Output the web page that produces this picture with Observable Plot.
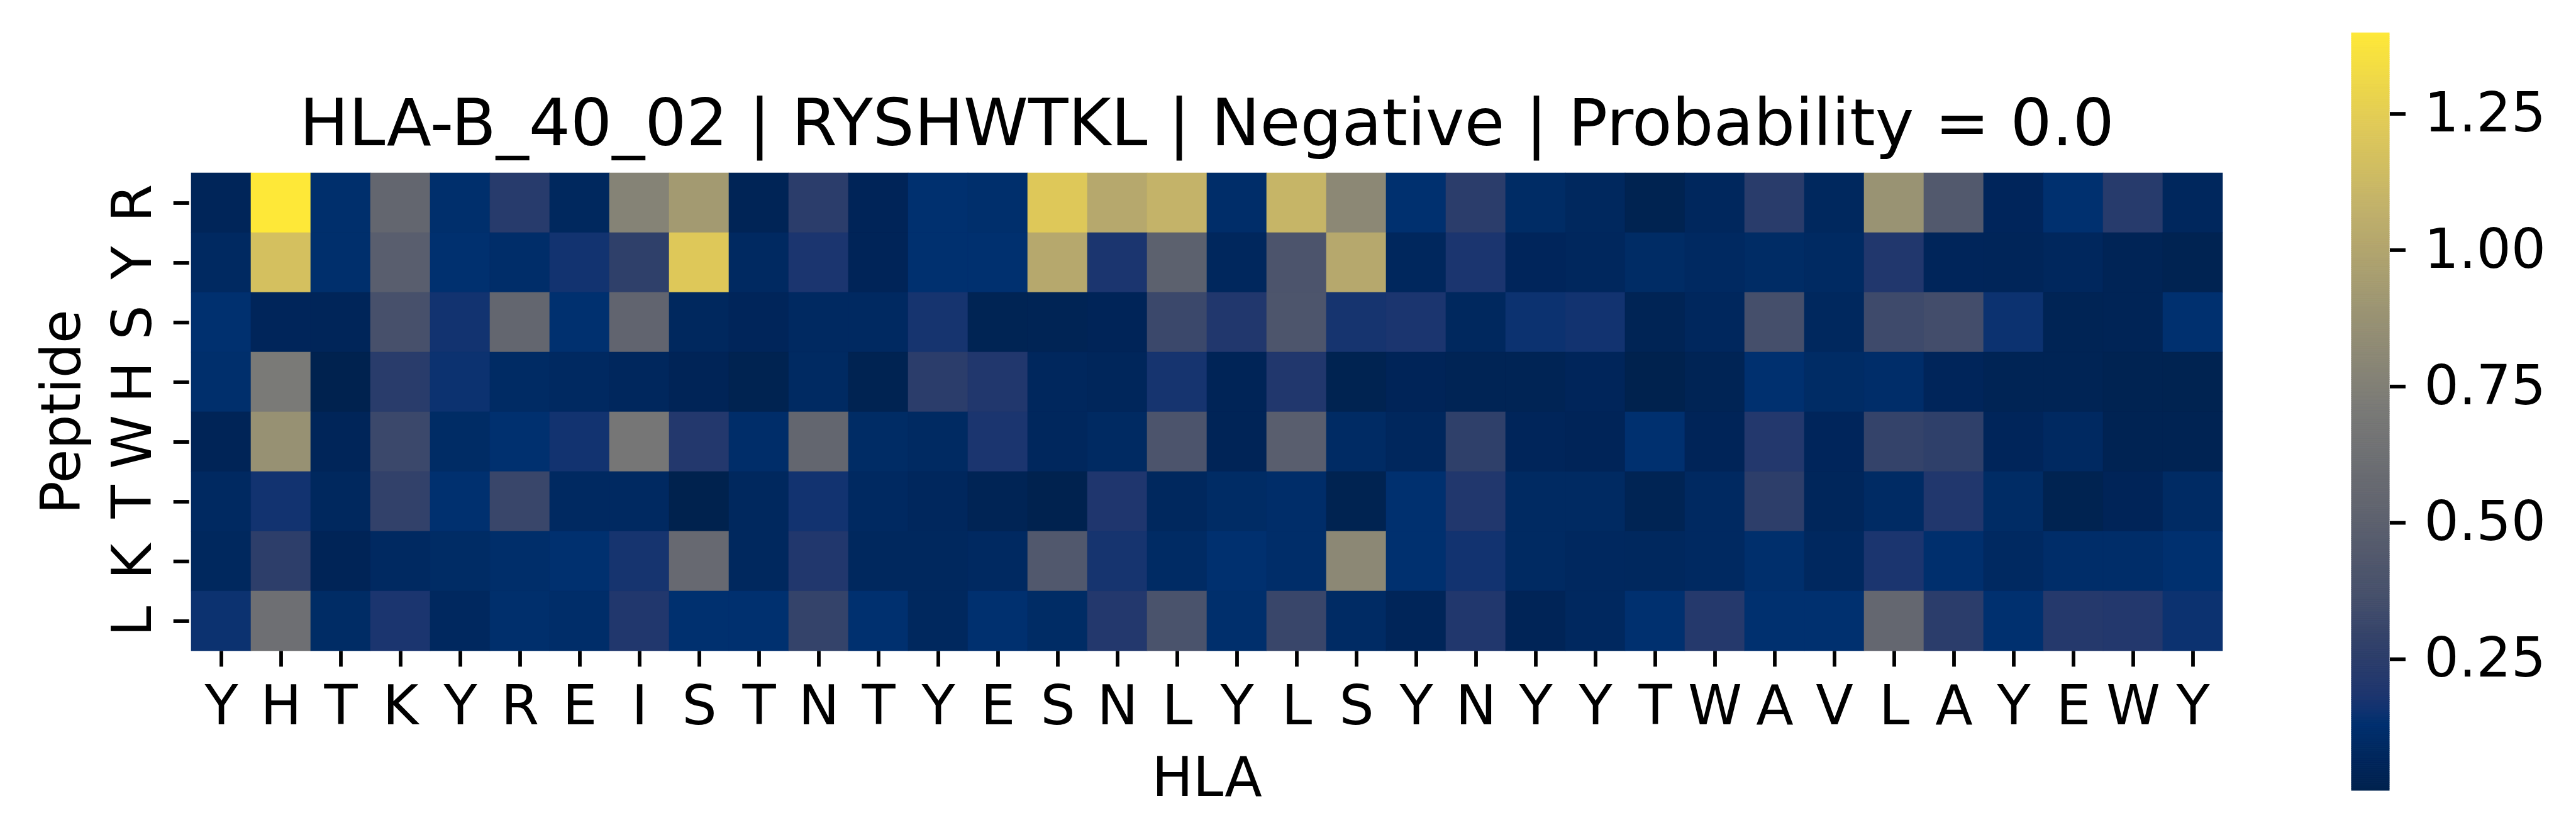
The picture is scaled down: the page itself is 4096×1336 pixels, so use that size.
<!DOCTYPE html>
<html>
<head>
<meta charset="utf-8">
<script src="https://cdn.jsdelivr.net/npm/d3@7"></script>
<script src="https://cdn.jsdelivr.net/npm/@observablehq/plot@0.6"></script>
<style>
html, body { margin: 0; padding: 0; background: #ffffff; }
#chart { position: relative; width: 4096px; height: 1336px; overflow: hidden; background: #ffffff; }
#chart svg { position: absolute; top: 0; }
</style>
</head>
<body>
<div id="chart"></div>
<script>
// ---- data ----
const hlaLabels = ["Y","H","T","K","Y","R","E","I","S","T","N","T","Y","E","S","N","L","Y","L","S","Y","N","Y","Y","T","W","A","V","L","A","Y","E","W","Y"];
const peptideLabels = ["R","Y","S","H","W","T","K","L"];

const rowR = [0.055,1.398,0.12,0.54,0.12,0.23,0.075,0.77,0.93,0.045,0.25,0.05,0.13,0.12,1.22,1.02,1.09,0.11,1.10,0.81,0.13,0.25,0.10,0.075,0.02,0.07,0.24,0.075,0.88,0.44,0.063,0.13,0.23,0.07];
const rowY = [0.085,1.17,0.12,0.48,0.13,0.11,0.16,0.27,1.22,0.085,0.18,0.05,0.13,0.13,1.02,0.18,0.50,0.07,0.40,1.02,0.07,0.18,0.063,0.07,0.10,0.085,0.10,0.09,0.20,0.06,0.055,0.07,0.045,0.025];
const rowS = [0.13,0.06,0.055,0.37,0.16,0.54,0.13,0.53,0.075,0.06,0.085,0.085,0.17,0.035,0.04,0.05,0.32,0.20,0.41,0.17,0.18,0.075,0.15,0.16,0.038,0.07,0.36,0.075,0.33,0.35,0.15,0.04,0.045,0.13];
const rowH = [0.12,0.71,0.012,0.24,0.15,0.095,0.085,0.07,0.048,0.02,0.09,0.025,0.25,0.20,0.07,0.065,0.17,0.048,0.20,0.022,0.05,0.038,0.04,0.06,0.009,0.04,0.13,0.10,0.11,0.06,0.038,0.04,0.025,0.022];
const rowW = [0.048,0.87,0.055,0.32,0.10,0.13,0.16,0.68,0.21,0.11,0.54,0.10,0.09,0.18,0.07,0.09,0.40,0.048,0.48,0.095,0.07,0.27,0.06,0.05,0.13,0.05,0.21,0.063,0.29,0.27,0.06,0.085,0.03,0.03];
const rowT = [0.085,0.16,0.075,0.28,0.13,0.31,0.085,0.085,0.01,0.075,0.16,0.085,0.07,0.04,0.012,0.19,0.075,0.10,0.11,0.022,0.13,0.20,0.09,0.09,0.035,0.085,0.26,0.065,0.095,0.20,0.10,0.02,0.05,0.095];
const rowK = [0.075,0.26,0.048,0.085,0.10,0.115,0.13,0.17,0.57,0.075,0.20,0.075,0.075,0.085,0.43,0.17,0.095,0.13,0.11,0.81,0.13,0.16,0.09,0.08,0.075,0.085,0.12,0.08,0.18,0.125,0.085,0.11,0.11,0.13];
const rowL = [0.15,0.62,0.10,0.18,0.08,0.12,0.11,0.20,0.13,0.13,0.29,0.13,0.075,0.13,0.10,0.21,0.39,0.12,0.31,0.095,0.055,0.20,0.048,0.08,0.13,0.22,0.13,0.13,0.55,0.25,0.13,0.22,0.21,0.15];

const rows = [rowR, rowY, rowS, rowH, rowW, rowT, rowK, rowL];
const colorTicks = [0.25, 0.50, 0.75, 1.00, 1.25];
const titleText = "HLA-B_40_02 | RYSHWTKL | Negative | Probability = 0.0";
const xLabel = "HLA";
const yLabel = "Peptide";

// matplotlib-style cividis colormap stops (position in [0,1], colour)
const cmapStops = [0, 0.037, 0.058, 0.087, 0.109, 0.130, 0.181, 0.253, 0.379, 0.505, 0.634, 0.764, 0.879, 1];
const cmapColors = ["#00224e", "#00255a", "#002a62", "#00306f", "#123370", "#1f366e", "#2d3e6a", "#454f6b", "#62656f", "#7a7a77", "#9b9473", "#c0b06b", "#e0ca58", "#fee838"];
const cividisMpl = (() => {
  const s = d3.scaleLinear().domain(cmapStops).range(cmapColors).interpolate(d3.interpolateRgb).clamp(true);
  return t => s(t);
})();

// ---- build ----
const cells = rows.flatMap((vals, r) => vals.map((v, c) => ({row: r, col: c, value: v})));
const extent = d3.extent(cells, d => d.value);
const font = "'DejaVu Sans', sans-serif";
const colorScale = {type: "linear", domain: extent, interpolate: cividisMpl};

const main = Plot.plot({
  width: 3600,
  height: 1336,
  marginLeft: 300.7,
  marginRight: 63.4,
  marginTop: 274,
  marginBottom: 300.7,
  style: {fontFamily: font, fontSize: "87px", background: "white", color: "black", overflow: "visible"},
  x: {type: "band", domain: d3.range(hlaLabels.length), padding: 0, axis: null},
  y: {type: "band", domain: d3.range(peptideLabels.length), padding: 0, axis: null},
  color: colorScale,
  marks: [
    Plot.cell(cells, {x: "col", y: "row", fill: "value", stroke: "value", strokeWidth: 0.6, inset: 0}),
    Plot.axisX({anchor: "bottom", tickSize: 25, tickPadding: 29, strokeWidth: 5.8, tickFormat: i => hlaLabels[i], label: null}),
    Plot.axisY({anchor: "left", tickSize: 25, tickPadding: 0, strokeWidth: 5.8, tickFormat: () => "", label: null}),
    Plot.text(peptideLabels, {y: (d, i) => i, text: d => d, frameAnchor: "left", textAnchor: "middle", rotate: -90, lineAnchor: "bottom", dx: -61.7}),
    Plot.text([xLabel], {text: d => d, frameAnchor: "bottom", textAnchor: "middle", lineAnchor: "bottom", dy: 229.7}),
    Plot.text([yLabel], {text: d => d, frameAnchor: "left", textAnchor: "middle", rotate: -90, lineAnchor: "bottom", dx: -174.7}),
    Plot.text([titleText], {text: d => d, frameAnchor: "top", textAnchor: "middle", lineAnchor: "bottom", dy: -43.5, fontSize: 104})
  ]
});
main.style.left = "0px";

const nSlices = 400;
const slices = d3.range(nSlices).map(i => {
  const a = extent[0] + (extent[1] - extent[0]) * i / nSlices;
  const b = extent[0] + (extent[1] - extent[0]) * (i + 1) / nSlices;
  return {y1: a, y2: b, mid: (a + b) / 2};
});

const bar = Plot.plot({
  width: 496,
  height: 1336,
  marginLeft: 139,
  marginRight: 297,
  marginTop: 52.2,
  marginBottom: 79,
  style: {fontFamily: font, fontSize: "87px", background: "white", color: "black", overflow: "visible"},
  x: {domain: [0, 1], axis: null},
  y: {domain: extent, axis: null},
  color: colorScale,
  marks: [
    Plot.rect(slices, {x1: 0, x2: 1, y1: "y1", y2: "y2", fill: "mid", stroke: "mid", strokeWidth: 1}),
    Plot.axisY(colorTicks, {anchor: "right", tickSize: 25, tickPadding: 30, strokeWidth: 5.8, tickFormat: d3.format(".2f"), label: null})
  ]
});
bar.style.left = "3600px";

const chart = document.getElementById("chart");
chart.appendChild(main);
chart.appendChild(bar);
</script>
</body>
</html>
